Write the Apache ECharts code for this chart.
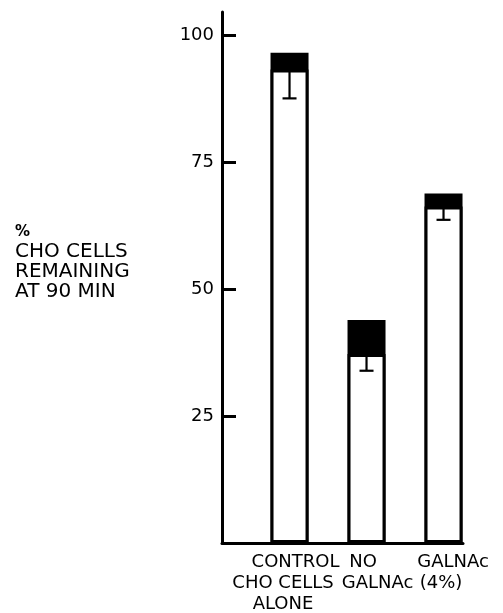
<!DOCTYPE html>
<html>
<head>
<meta charset="utf-8">
<script src="https://cdn.jsdelivr.net/npm/echarts@6/dist/echarts.min.js"></script>
<style>
html,body{margin:0;padding:0;background:#fff;}
#chart{width:503px;height:613px;}
</style>
</head>
<body>
<div id="chart"></div>
<script>
// Data
var categories = ['CONTROL\nCHO CELLS\nALONE', 'NO\nGALNAc', 'GALNAc\n(4%)'];
var meanValues = [93.2, 37.2, 66.2];     // top of white part of bar
var topValues = [96.5, 43.9, 68.8];      // top of black cap
var lowerValues = [87.5, 33.9, 63.6];    // bottom of error whisker
var yTicks = [25, 50, 75, 100];
var yTitleLines = ['%', 'CHO CELLS', 'REMAINING', 'AT 90 MIN'];

// layout of the hand-lettered category labels (px): whole-label nudge and per-line shift
var labelNudge = [-6.5, 11, 9.5];
var lineShift = [[12.5, 0, 0], [-14.5, 0], [0, -12]];

var FONT = 'DejaVu Sans';
var chart = echarts.init(document.getElementById('chart'), null, {renderer: 'canvas'});

// category i is placed at x = i + 1 on a value axis
var capData = categories.map(function (c, i) { return [i + 1, topValues[i]]; });
var whiteData = categories.map(function (c, i) { return [i + 1, meanValues[i]]; });
var errData = categories.map(function (c, i) { return [i + 1, meanValues[i], lowerValues[i]]; });
var labelData = categories.map(function (c, i) { return [i + 1, 0]; });

// rich styles for shifted lines
var rich = {};
lineShift.forEach(function (arr, i) {
  arr.forEach(function (s, j) {
    var pad = s >= 0 ? [0, 0, 0, 2 * s] : [0, -2 * s, 0, 0];
    rich['l' + i + '_' + j] = {fontFamily: FONT, fontSize: 18, color: '#000', lineHeight: 21, padding: pad};
  });
});

var titleText = yTitleLines.map(function (t, i) { return '{' + (i === 0 ? 'p' : 't') + '|' + t + '}'; }).join('\n');

var option = {
  animation: false,
  backgroundColor: '#fff',
  title: {
    text: titleText,
    left: 15,
    top: 222,
    padding: 0,
    textStyle: {
      fontFamily: FONT, fontSize: 20, fontWeight: 'normal', color: '#000', lineHeight: 20,
      rich: {
        p: {fontFamily: FONT, fontSize: 15, fontWeight: 'bold', color: '#000', lineHeight: 20},
        t: {fontFamily: FONT, fontSize: 20, color: '#000', lineHeight: 20}
      }
    }
  },
  grid: {left: 222, right: 40, top: 12, bottom: 70},
  xAxis: {
    type: 'value',
    min: 0.123,
    max: 3.253,
    splitLine: {show: false},
    axisLine: {show: true, onZero: false, lineStyle: {color: '#000', width: 3}},
    axisTick: {show: false},
    axisLabel: {show: false}
  },
  yAxis: {
    type: 'value',
    min: 0,
    max: 104.5,
    splitLine: {show: false},
    axisLine: {show: true, onZero: false, lineStyle: {color: '#000', width: 3}},
    axisTick: {show: true, inside: true, length: 14, customValues: yTicks, lineStyle: {color: '#000', width: 3}},
    axisLabel: {customValues: yTicks, fontFamily: FONT, fontSize: 18, color: '#000', margin: 8}
  },
  series: [
    {
      type: 'bar', barWidth: 38, barGap: '-100%', data: capData,
      itemStyle: {color: '#000', borderColor: '#000', borderWidth: 3}
    },
    {
      type: 'bar', barWidth: 38, barGap: '-100%', data: whiteData,
      itemStyle: {color: '#fff', borderColor: '#000', borderWidth: 3}
    },
    {
      type: 'custom', data: errData, z: 10,
      renderItem: function (params, api) {
        var top = api.coord([api.value(0), api.value(1)]);
        var bot = api.coord([api.value(0), api.value(2)]);
        var half = 7;
        return {
          type: 'group',
          children: [
            {type: 'line', shape: {x1: top[0], y1: top[1], x2: bot[0], y2: bot[1]}, style: {stroke: '#000', lineWidth: 2.2}},
            {type: 'line', shape: {x1: bot[0] - half, y1: bot[1], x2: bot[0] + half, y2: bot[1]}, style: {stroke: '#000', lineWidth: 2.2}}
          ]
        };
      }
    },
    {
      type: 'scatter', data: labelData, symbolSize: 0, clip: false, silent: true, z: 20,
      itemStyle: {opacity: 1},
      label: {
        show: true, position: 'bottom', distance: 9,
        formatter: function (p) {
          var i = p.dataIndex;
          return categories[i].split('\n').map(function (line, j) {
            return '{l' + i + '_' + j + '|' + line + '}';
          }).join('\n');
        },
        rich: rich,
        fontFamily: FONT, fontSize: 18, color: '#000', lineHeight: 21, align: 'center'
      },
      labelLayout: function (p) {
        return {dx: labelNudge[p.dataIndex], hideOverlap: false};
      }
    }
  ]
};
chart.setOption(option);
</script>
</body>
</html>
